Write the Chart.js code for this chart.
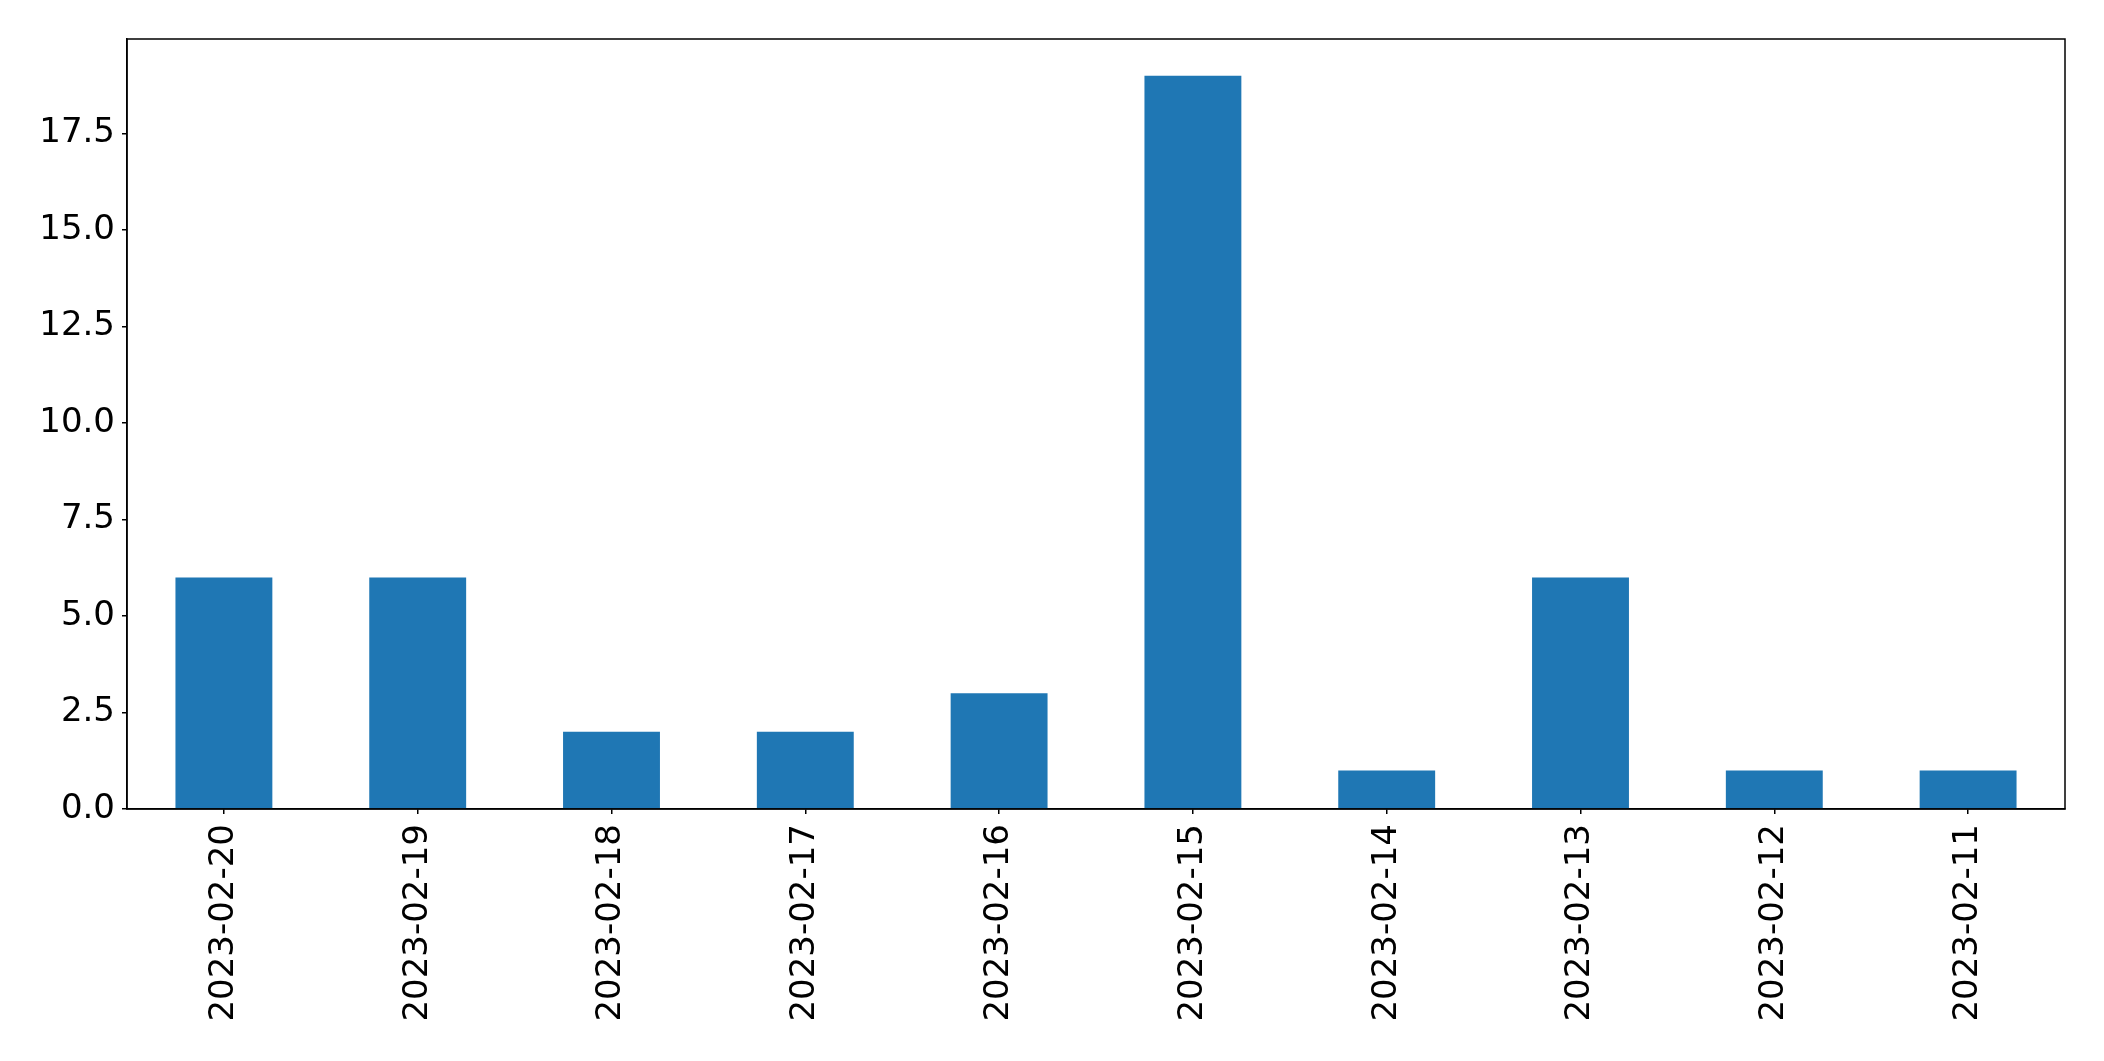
<!DOCTYPE html>
<html>
<head>
<meta charset="utf-8">
<script src="https://cdn.jsdelivr.net/npm/chart.js@4/dist/chart.umd.min.js"></script>
<style>
  html, body { margin: 0; padding: 0; background: #fff; }
  #wrap { width: 2104px; height: 1061px; }
</style>
</head>
<body>
<div id="wrap"><canvas id="chart"></canvas></div>
<script>
const dates = ['2023-02-20', '2023-02-19', '2023-02-18', '2023-02-17', '2023-02-16',
               '2023-02-15', '2023-02-14', '2023-02-13', '2023-02-12', '2023-02-11'];
const counts = [6, 6, 2, 2, 3, 19, 1, 6, 1, 1];
const yTickStep = 2.5;
const yMax = 19.95;

// box around the plot area, like matplotlib spines
const frame = {
    id: 'frame',
    afterDraw(chart) {
        const a = chart.chartArea;
        const ctx = chart.ctx;
        ctx.save();
        ctx.strokeStyle = '#000';
        ctx.lineWidth = 1.5;
        ctx.strokeRect(a.left, a.top, a.right - a.left, a.bottom - a.top);
        ctx.restore();
    }
};

const font = { family: 'DejaVu Sans', size: 34 };

new Chart(document.getElementById('chart').getContext('2d'), {
    type: 'bar',
    data: {
        labels: dates,
        datasets: [{
            data: counts,
            backgroundColor: '#1f77b4',
            borderWidth: 0,
            barPercentage: 0.5,
            categoryPercentage: 1.0
        }]
    },
    options: {
        responsive: true,
        maintainAspectRatio: false,
        animation: false,
        layout: { padding: { top: 39, right: 39, left: 0, bottom: 0 } },
        plugins: { legend: { display: false }, tooltip: { enabled: false } },
        scales: {
            x: {
                grid: { offset: false, drawOnChartArea: false, drawTicks: true, tickLength: 5, color: '#000', lineWidth: 1.5 },
                border: { display: true, color: '#000', width: 1.5 },
                ticks: { color: '#000', font: font, minRotation: 90, maxRotation: 90, padding: 10, autoSkip: false },
                afterFit(scale) { scale.height = 252; }
            },
            y: {
                min: 0,
                max: yMax,
                grid: { drawOnChartArea: false, drawTicks: true, tickLength: 5, color: '#000', lineWidth: 1.5 },
                border: { display: true, color: '#000', width: 1.5 },
                ticks: {
                    color: '#000', font: font, stepSize: yTickStep, includeBounds: false, padding: 7,
                    callback: v => v.toFixed(1)
                },
                afterFit(scale) { scale.width = 127; }
            }
        }
    },
    plugins: [frame]
});
</script>
</body>
</html>
